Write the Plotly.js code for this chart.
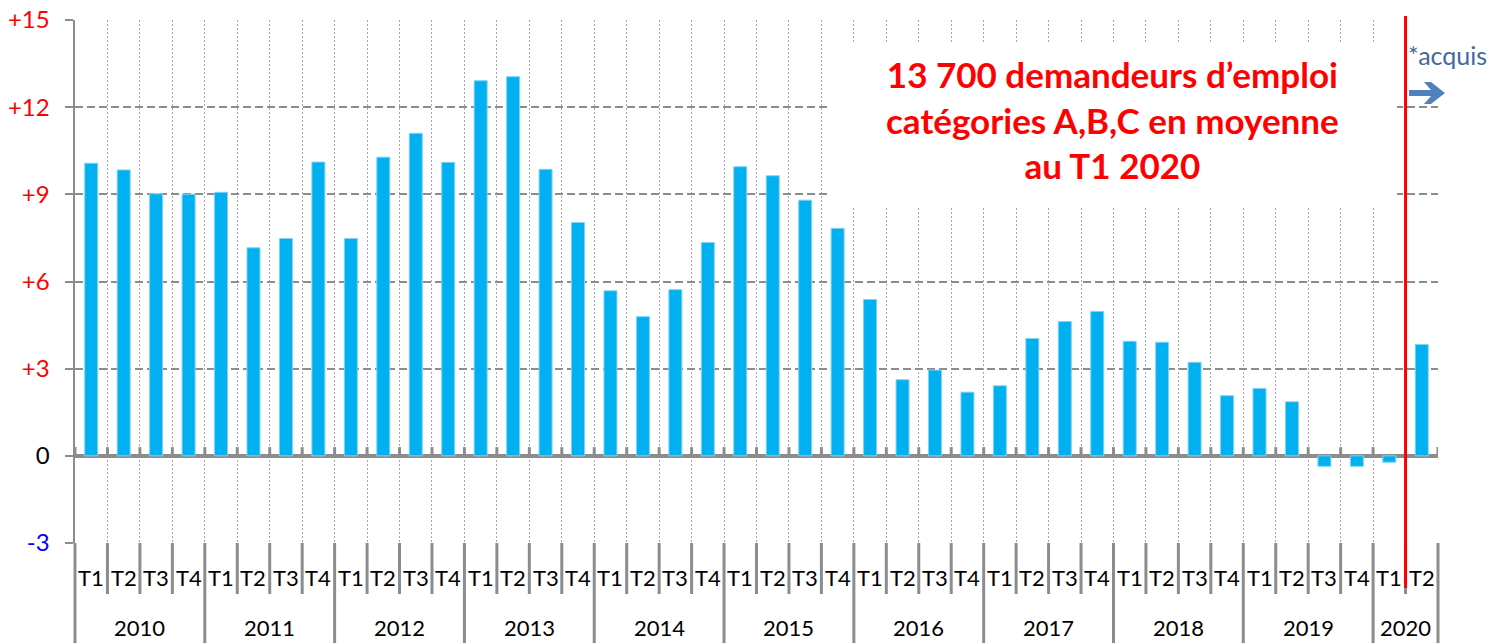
<!DOCTYPE html>
<html>
<head>
<meta charset="utf-8">
<script src="https://cdn.plot.ly/plotly-3.0.1.min.js"></script>
<style>html,body{margin:0;padding:0;background:#fff;}#chart{width:1497px;height:643px;}</style>
</head>
<body>
<div id="chart"></div>
<script>
// ---- data ----
const years = ['2010','2011','2012','2013','2014','2015','2016','2017','2018','2019','2020'];
const quarters = ['T1','T2','T3','T4','T1','T2','T3','T4','T1','T2','T3','T4','T1','T2','T3','T4',
  'T1','T2','T3','T4','T1','T2','T3','T4','T1','T2','T3','T4','T1','T2','T3','T4',
  'T1','T2','T3','T4','T1','T2','T3','T4','T1','T2'];
const yearOfQuarter = ['2010','2010','2010','2010','2011','2011','2011','2011','2012','2012','2012','2012',
  '2013','2013','2013','2013','2014','2014','2014','2014','2015','2015','2015','2015',
  '2016','2016','2016','2016','2017','2017','2017','2017','2018','2018','2018','2018',
  '2019','2019','2019','2019','2020','2020'];
const values = [10.07, 9.84, 9.02, 9.00, 9.07, 7.16, 7.48, 10.11, 7.48, 10.28, 11.10, 10.10,
  12.91, 13.05, 9.86, 8.03, 5.68, 4.79, 5.72, 7.34, 9.95, 9.64, 8.80, 7.83,
  5.38, 2.62, 2.95, 2.19, 2.41, 4.04, 4.62, 4.97, 3.94, 3.91, 3.22, 2.07,
  2.32, 1.86, -0.36, -0.36, -0.22, 3.83];
const yTicks = [-3, 0, 3, 6, 9, 12, 15];
const yTickText = ['-3', '0', '+3', '+6', '+9', '+12', '+15'];
const titleText = '13 700 demandeurs d’emploi<br>catégories A,B,C en moyenne<br>au T1 2020';
const noteText = '*acquis';

// ---- layout geometry ----
const W = 1497, H = 643;
const M = {l: 75, r: 59, t: 20, b: 100};
const PW = W - M.l - M.r, PH = H - M.t - M.b;
const px = x => (x - M.l) / PW;
const py = y => (M.t + PH - y) / PH;
const n = values.length;

const grey = '#8c8c8c';
const tickColor = v => v > 0 ? '#ff0000' : (v < 0 ? '#0000ff' : '#000000');

const xIdx = values.map((v, i) => i);
const boundaries = [];
for (let k = 0; k <= n; k++) boundaries.push(k - 0.5);

const trace = {
  type: 'bar',
  x: xIdx,
  y: values,
  width: 0.4,
  marker: {color: '#00b0f0', line: {color: '#7fd3f3', width: 1}},
  hoverinfo: 'skip'
};

const shapes = [];
// white box behind the message (hides grid lines there)
shapes.push({type: 'rect', xref: 'paper', yref: 'paper', x0: px(830), x1: px(1397), y0: py(206), y1: py(42),
  fillcolor: '#ffffff', line: {width: 0}, layer: 'above'});
// small ticks on the zero line
boundaries.forEach(b => {
  shapes.push({type: 'line', xref: 'x', yref: 'y', x0: b, x1: b, y0: 0, y1: 0.3,
    line: {color: grey, width: 3}});
});
// category separators below the plot
const yearStarts = [];
let prev = null;
yearOfQuarter.forEach((y, i) => { if (y !== prev) { yearStarts.push(i); prev = y; } });
boundaries.forEach((b, k) => {
  const isYear = yearStarts.includes(k) || k === n;
  const xp = k / n;
  shapes.push({type: 'line', xref: 'paper', yref: 'paper', x0: xp, x1: xp, y0: 0,
    y1: isYear ? py(643) : py(594), line: {color: grey, width: 3}});
});
// red vertical line before the last quarter
shapes.push({type: 'line', xref: 'paper', yref: 'paper', x0: (n - 1) / n, x1: (n - 1) / n,
  y0: py(588), y1: py(16), line: {color: '#ff0000', width: 3}});
// arrow
const arrowPts = [[1409, 90], [1431, 90], [1424, 82], [1431, 82], [1445, 93], [1431, 104], [1424, 104], [1431, 96], [1409, 96]];
shapes.push({type: 'path', xref: 'paper', yref: 'paper',
  path: 'M' + arrowPts.map(p => px(p[0]).toFixed(5) + ',' + py(p[1]).toFixed(5)).join(' L') + ' Z',
  fillcolor: '#4f81bd', line: {width: 0}});

const annotations = [];
quarters.forEach((q, i) => {
  annotations.push({x: i, xref: 'x', y: py(577), yref: 'paper', text: q, showarrow: false,
    xanchor: 'center', yanchor: 'middle', font: {family: 'Lato', size: 22, color: '#000'}});
});
years.forEach(y => {
  const idx = yearOfQuarter.map((v, i) => v === y ? i : -1).filter(i => i >= 0);
  const c = (idx[0] + idx[idx.length - 1]) / 2;
  annotations.push({x: c, xref: 'x', y: py(628), yref: 'paper', text: y, showarrow: false,
    xanchor: 'center', yanchor: 'middle', font: {family: 'Lato', size: 22, color: '#000'}});
});
annotations.push({x: px(1112), xref: 'paper', y: py(120), yref: 'paper', text: titleText, showarrow: false,
  xanchor: 'center', yanchor: 'middle', align: 'center',
  font: {family: 'Lato', size: 35, color: '#ff0000', weight: 700}});
annotations.push({x: px(1406), xref: 'paper', y: py(55), yref: 'paper', text: noteText, showarrow: false,
  xanchor: 'left', yanchor: 'middle', font: {family: 'Lato', size: 25, color: '#44699d'}});

const layout = {
  width: W, height: H,
  margin: M,
  paper_bgcolor: '#fff', plot_bgcolor: '#fff',
  showlegend: false,
  font: {family: 'Lato', size: 22, color: '#000'},
  xaxis: {
    range: [-0.5, n - 0.5], tickvals: boundaries, showticklabels: false, ticks: '',
    showgrid: true, gridcolor: '#a6a6a6', gridwidth: 1, griddash: '2px,2px',
    zeroline: false, showline: false, fixedrange: true
  },
  yaxis: {
    range: [-3, 15], tickvals: yTicks,
    ticktext: yTicks.map((v, i) => '<span style="color:' + tickColor(v) + '">' + yTickText[i] + '</span>'),
    tickfont: {family: 'Lato', size: 24},
    ticks: 'outside', ticklen: 8, tickwidth: 2, tickcolor: grey, ticklabelstandoff: 10,
    showgrid: true, gridcolor: grey, gridwidth: 2, griddash: '8px,4px',
    zeroline: true, zerolinecolor: grey, zerolinewidth: 4,
    showline: true, linecolor: grey, linewidth: 2.5, fixedrange: true
  },
  shapes: shapes,
  annotations: annotations
};

Plotly.newPlot('chart', [trace], layout, {displayModeBar: false, staticPlot: true});
</script>
</body>
</html>
